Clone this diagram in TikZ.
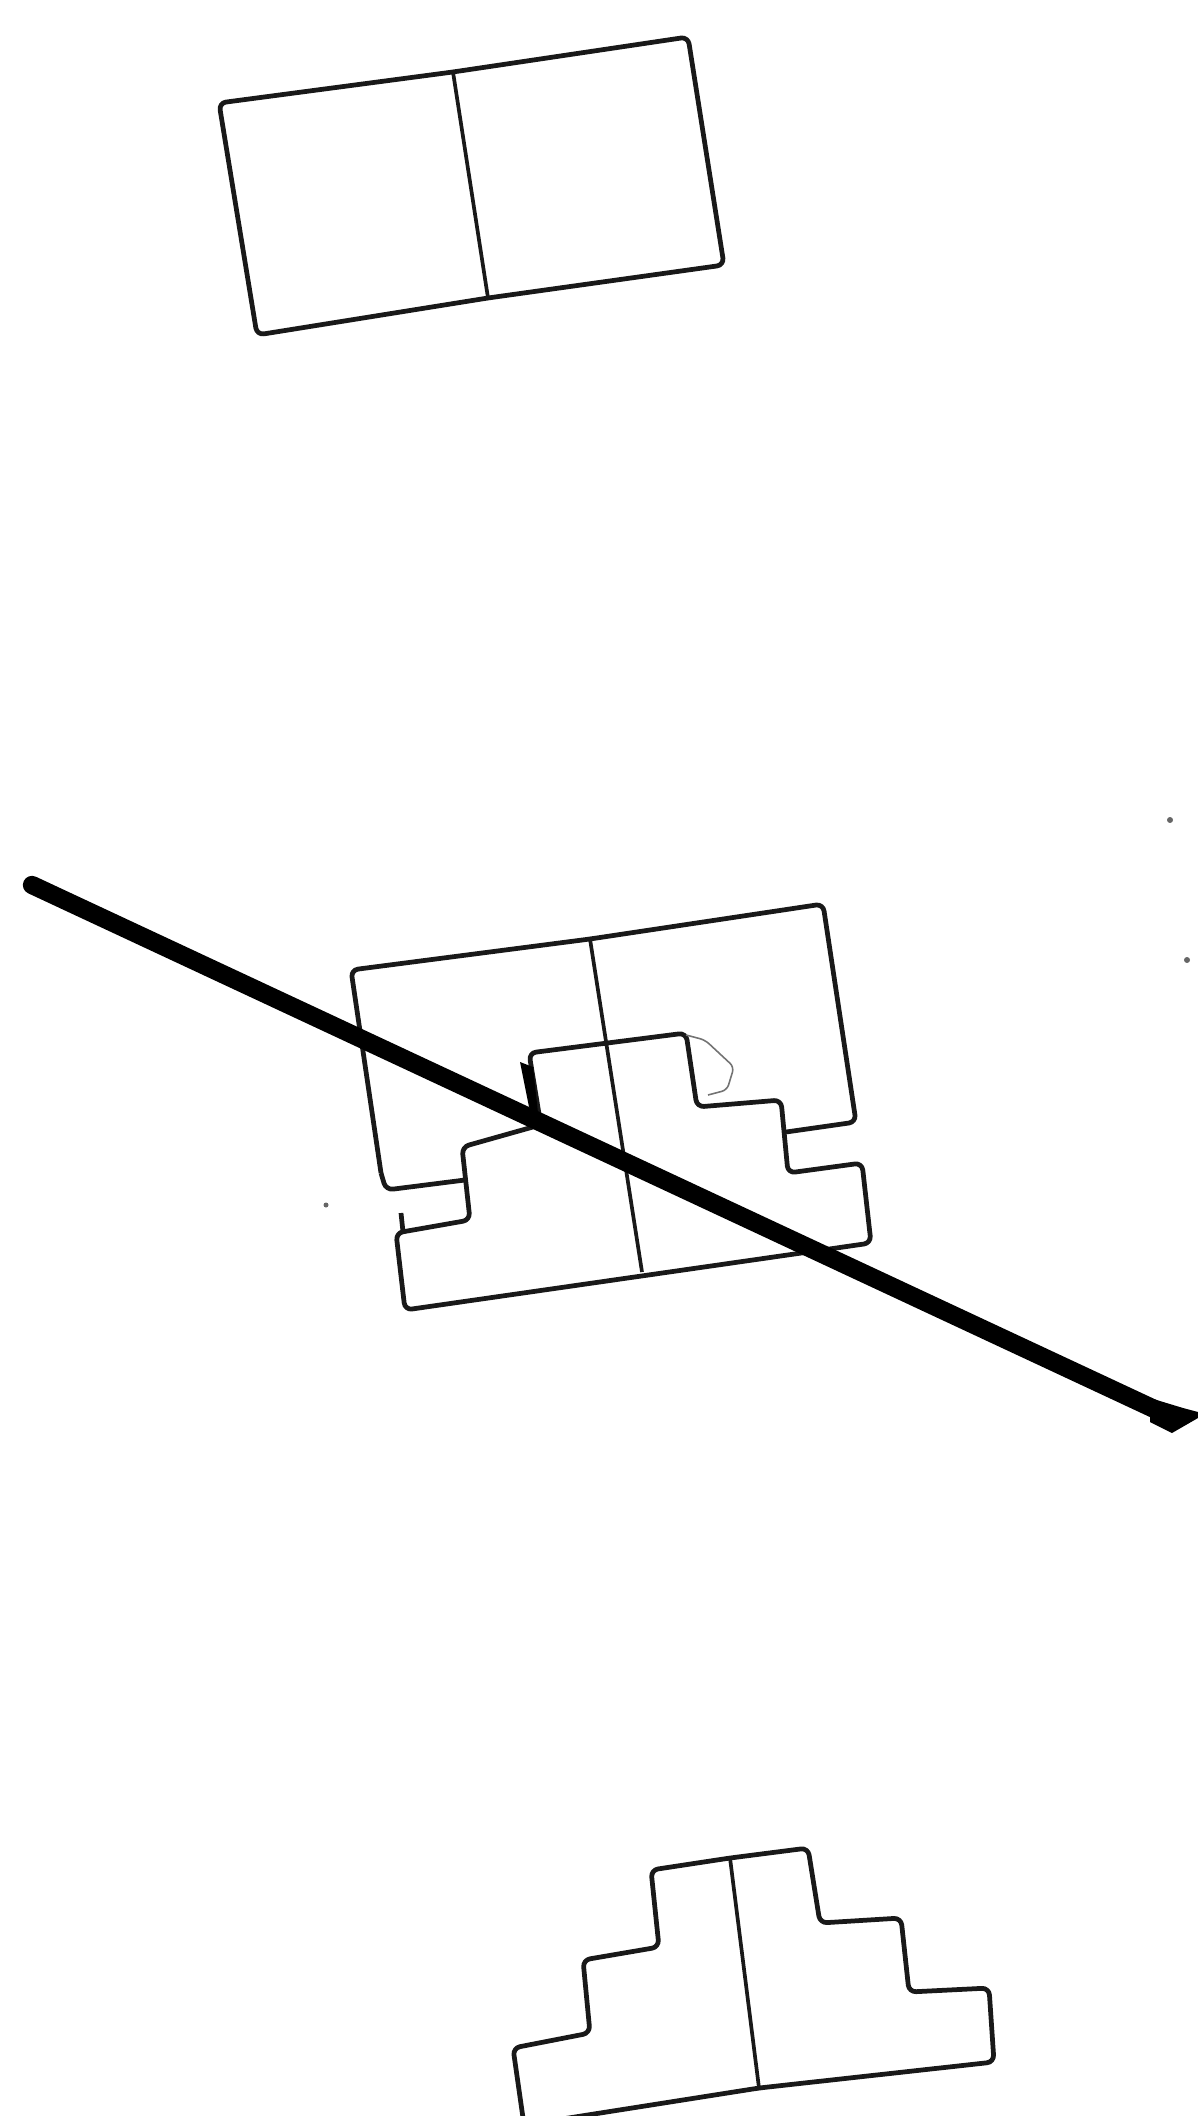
\documentclass[tikz,border=0pt]{standalone}
\usepackage{xcolor}
\usepackage{tikz}
\usetikzlibrary{positioning, calc}

\begin{document}
\begin{tikzpicture}[
    x=0.01cm, y=-0.01cm,
    outline/.style={draw=black!90, line width=1.35pt, line join=round, rounded corners=2pt},
    divider/.style={draw=black!90, line width=1.05pt},
    faint/.style={draw=black!55, line width=0.45pt, rounded corners=1.5pt},
    cutline/.style={draw=black, line width=5.2pt, line cap=round},
    speck/.style={fill=black!60, draw=none}
]
\useasboundingbox (0,0) rectangle (1198,2116);
\clip (0,0) rectangle (1198,2116);

% whole piece
\draw[outline] (219,103) -- (453,72) -- (688,37) -- (724,265) -- (488,298) -- (257,335) -- cycle;
\draw[divider] (453,72) -- (488,298);

% both parts, cut
\draw[outline] (381,1173) -- (351,970) -- (590,939) -- (823,904) -- (856,1122) -- (786,1132);
\draw[outline] (381,1173) -- (386,1190) -- (465,1180);
\draw[outline] (540,1120) -- (529,1053) -- (686,1033) -- (697,1107) -- (781,1100) -- (788,1173) -- (862,1163) -- (871,1243) -- (405,1310) -- (396,1233) -- (470,1220) -- (462,1147) -- (540,1125);
\draw[divider] (590,939) -- (642,1272);
\draw[outline] (401,1213) -- (403,1232);
\draw[faint] (686,1035) -- (705,1040) -- (734,1067) -- (727,1090) -- (708,1095);
\fill (520,1062) -- (533,1067) -- (538,1113) -- (529,1107) -- cycle;

\coordinate (cutstart) at (32,885);
\coordinate (cutend) at (1165,1414);
\draw[cutline] (cutstart) -- (cutend);
\fill (1150,1398) -- (1183,1408) -- (1198,1412) -- (1198,1418) -- (1172,1433) -- (1150,1422) -- cycle;

% remaining part
\draw[outline] (651,1870) -- (730,1858) -- (808,1848) -- (820,1923) -- (901,1918) -- (909,1992) -- (989,1988) -- (994,2062) -- (759,2088) -- (524,2125) -- (513,2048) -- (590,2033) -- (583,1960) -- (659,1947) -- cycle;
\draw[divider] (730,1858) -- (759,2088);

% specks
\fill[speck] (326,1205) circle (2.5);
\fill[speck] (1170,820) circle (3);
\fill[speck] (1187,960) circle (3);
\end{tikzpicture}
\end{document}
